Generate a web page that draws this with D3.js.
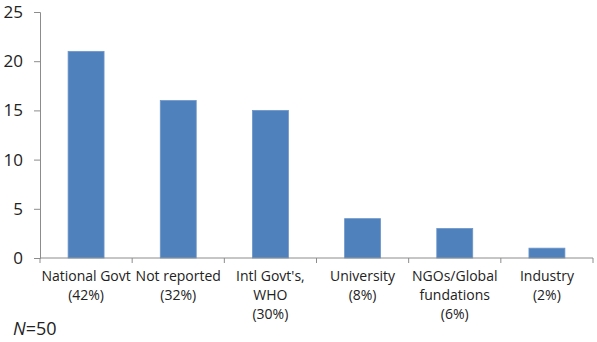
<!DOCTYPE html>
<html>
<head>
<meta charset="utf-8">
<script src="https://cdn.jsdelivr.net/npm/d3@7"></script>
<style>
  body { margin: 0; background: #fff; }
  svg text { font-family: "Open Sans", sans-serif; fill: #222; }
</style>
</head>
<body>
<div id="chart"></div>
<script>
// funding source of the studies, counts per category
const categories = ['National Govt', 'Not reported', "Intl Govt's", 'University', 'NGOs/Global', 'Industry'];
const labelLines = [
    ['National Govt', '(42%)'],
    ['Not reported', '(32%)'],
    ["Intl Govt's,", 'WHO', '(30%)'],
    ['University', '(8%)'],
    ['NGOs/Global', 'fundations', '(6%)'],
    ['Industry', '(2%)']
];
const counts = [21, 16, 15, 4, 3, 1];
const yTicks = [0, 5, 10, 15, 20, 25];

var width = 597;
var height = 342;
var margin = {top: 12, right: 4, bottom: 84, left: 40};

const svg = d3.select('#chart')
    .append('svg')
    .attr('width', width)
    .attr('height', height);

const xScale = d3.scaleBand()
    .domain(categories)
    .range([margin.left, width - margin.right])
    .paddingInner(0.61)
    .paddingOuter(0.305);

const yScale = d3.scaleLinear()
    .domain([0, 25])
    .range([height - margin.bottom, margin.top]);

// bars
svg.append('g')
    .selectAll('rect')
    .data(counts)
    .join('rect')
    .attr('x', (d, i) => xScale(categories[i]))
    .attr('y', d => yScale(d))
    .attr('width', xScale.bandwidth())
    .attr('height', d => yScale(0) - yScale(d))
    .attr('fill', '#4f81bd')
    .attr('stroke', '#6d96c9')
    .attr('stroke-width', 0.8);

// y axis
const yAxis = svg.append('g')
    .attr('transform', `translate(${margin.left},0)`)
    .call(d3.axisLeft(yScale).tickValues(yTicks).tickSize(6).tickPadding(11));
yAxis.select('.domain').attr('stroke', '#8c8c8c');
yAxis.selectAll('.tick line').attr('stroke', '#8c8c8c');
yAxis.selectAll('.tick text').style('font-size', '17px').attr('fill', '#222');

// x axis: ticks on the band boundaries
const step = xScale.step();
const xAxis = svg.append('g')
    .attr('transform', `translate(0,${yScale(0)})`);
xAxis.append('line')
    .attr('x1', margin.left).attr('x2', width - margin.right)
    .attr('stroke', '#8c8c8c');
xAxis.selectAll('.bound')
    .data(d3.range(categories.length + 1))
    .join('line')
    .attr('class', 'bound')
    .attr('x1', i => margin.left + i * step)
    .attr('x2', i => margin.left + i * step)
    .attr('y1', 0).attr('y2', 5)
    .attr('stroke', '#8c8c8c');

// category labels
const lab = svg.append('g')
    .selectAll('text')
    .data(labelLines)
    .join('text')
    .attr('x', (d, i) => xScale(categories[i]) + xScale.bandwidth() / 2)
    .attr('y', yScale(0) + 23)
    .attr('text-anchor', 'middle')
    .style('font-size', '14px');
lab.selectAll('tspan')
    .data(d => d)
    .join('tspan')
    .attr('x', function () { return d3.select(this.parentNode).attr('x'); })
    .attr('dy', (d, j) => j === 0 ? 0 : 19)
    .text(d => d);

// sample size note
const note = svg.append('text')
    .attr('x', 13)
    .attr('y', 335)
    .style('font-size', '18px');
note.append('tspan').style('font-style', 'italic').text('N');
note.append('tspan').text('=50');
</script>
</body>
</html>
